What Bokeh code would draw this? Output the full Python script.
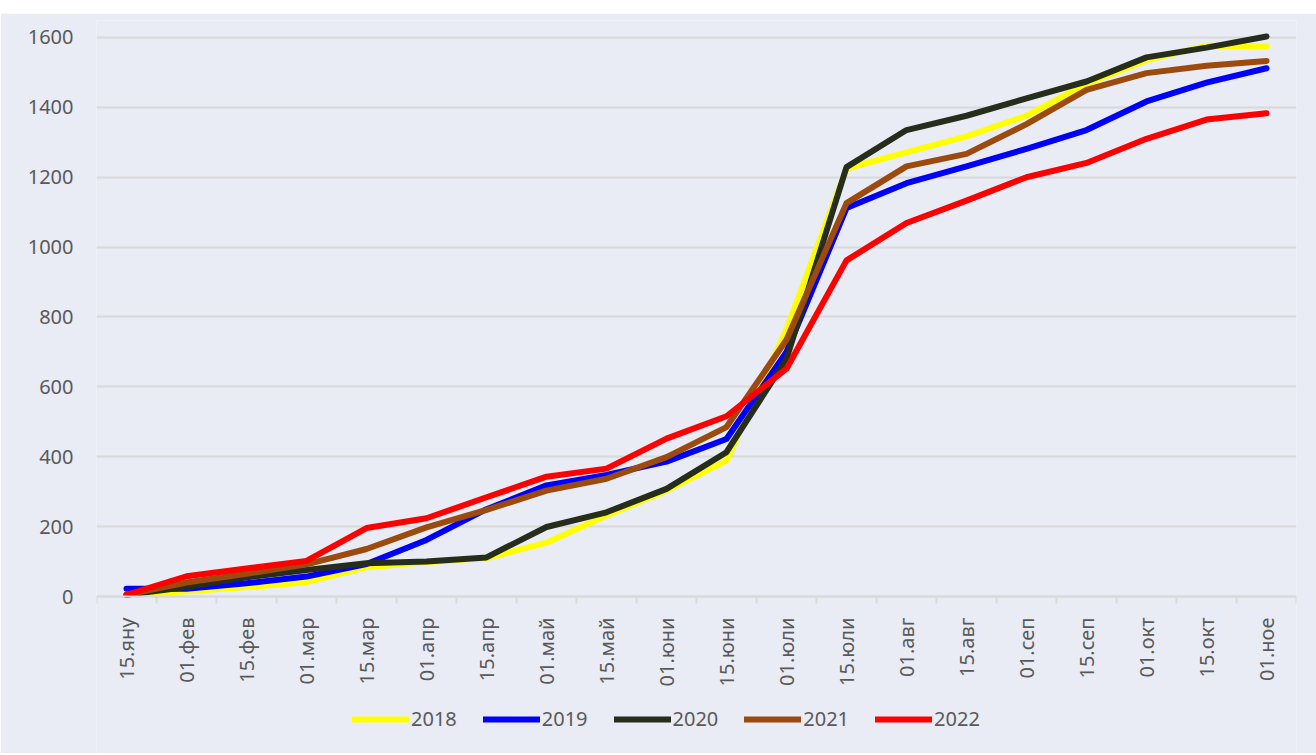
from bokeh.plotting import figure
from bokeh.models import (FixedTicker, Legend, LegendItem, ColumnDataSource, Spacer)
from bokeh.layouts import column
from bokeh.embed import file_html
from bokeh.resources import INLINE
import math

categories = ["15.яну", "01.фев", "15.фев", "01.мар", "15.мар", "01.апр", "15.апр",
              "01.май", "15.май", "01.юни", "15.юни", "01.юли", "15.юли", "01.авг",
              "15.авг", "01.сеп", "15.сеп", "01.окт", "15.окт", "01.ное"]

y2018 = [5, 15, 27, 41, 84, 98, 110, 154, 232, 303, 389, 765, 1225, 1271, 1317, 1376, 1467, 1535, 1576, 1574]
y2019 = [22, 22, 38, 57, 93, 162, 250, 318, 348, 386, 451, 700, 1112, 1183, 1231, 1281, 1335, 1417, 1471, 1512]
y2020 = [5, 27, 55, 76, 95, 100, 112, 199, 241, 308, 413, 680, 1229, 1335, 1376, 1426, 1474, 1543, 1571, 1603]
y2021 = [5, 40, 65, 92, 136, 198, 248, 303, 337, 399, 485, 735, 1126, 1231, 1267, 1352, 1450, 1498, 1519, 1533]
y2022 = [5, 58, 80, 102, 196, 224, 284, 343, 366, 452, 516, 652, 962, 1069, 1133, 1200, 1241, 1310, 1365, 1383]

series = [("2018", y2018, "#FFFF00"),
          ("2019", y2019, "#0000FF"),
          ("2020", y2020, "#262D1C"),
          ("2021", y2021, "#9C4A0D"),
          ("2022", y2022, "#FF0000")]

y_ticks = [0, 200, 400, 600, 800, 1000, 1200, 1400, 1600]

BG = "#E9EBF5"
TXT = "#595959"
GRID = "#D9D9D9"
FONT = "Noto Sans"

n = len(categories)
xs = [i + 0.5 for i in range(n)]

p = figure(width=1316, height=740, output_backend="svg", toolbar_location=None,
           x_range=(0, n), y_range=(-449.3, 1648.6),
           min_border_left=96, min_border_right=20, min_border_top=7, min_border_bottom=0)
p.background_fill_color = BG
p.border_fill_color = BG
p.outline_line_color = None

renderers = []
for name, ys, col in series:
    src = ColumnDataSource(dict(x=xs, y=ys))
    r = p.line("x", "y", source=src, line_color=col, line_width=6, line_join="round", line_cap="round")
    renderers.append((name, r))

# y axis
p.yaxis.ticker = FixedTicker(ticks=y_ticks)
p.yaxis.axis_line_color = None
p.yaxis.major_tick_line_color = None
p.yaxis.minor_tick_line_color = None
p.yaxis.major_label_text_font = FONT
p.yaxis.major_label_text_font_size = "20px"
p.yaxis.major_label_text_color = TXT
p.yaxis.major_label_standoff = 17

# x axis, drawn at value 0 inside the frame
p.xaxis.fixed_location = 0
p.xaxis.ticker = FixedTicker(ticks=xs, minor_ticks=list(range(n + 1)))
p.xaxis.major_label_overrides = {x: c for x, c in zip(xs, categories)}
p.xaxis.major_label_orientation = math.pi / 2
p.xaxis.axis_line_color = GRID
p.xaxis.axis_line_width = 2
p.xaxis.major_tick_line_color = None
p.xaxis.minor_tick_line_color = GRID
p.xaxis.minor_tick_line_width = 2
p.xaxis.minor_tick_out = 7
p.xaxis.minor_tick_in = 0
p.xaxis.major_label_text_font = FONT
p.xaxis.major_label_text_font_size = "20px"
p.xaxis.major_label_text_color = TXT
p.xaxis.major_label_standoff = 14

p.xgrid.grid_line_color = None
p.ygrid.ticker = FixedTicker(ticks=y_ticks)
p.ygrid.grid_line_color = GRID
p.ygrid.grid_line_width = 2

legend = Legend(items=[LegendItem(label=nm, renderers=[r]) for nm, r in renderers],
                orientation="horizontal", location=(256, 21),
                glyph_width=57, glyph_height=20, label_standoff=2, spacing=26,
                label_text_font=FONT, label_text_font_size="20px", label_text_color=TXT,
                background_fill_alpha=0, border_line_alpha=0, padding=0, margin=0)
p.add_layout(legend)

layout = column(Spacer(height=13, width=1316), p, spacing=0)
open("out.html", "w").write(file_html(layout, INLINE))
